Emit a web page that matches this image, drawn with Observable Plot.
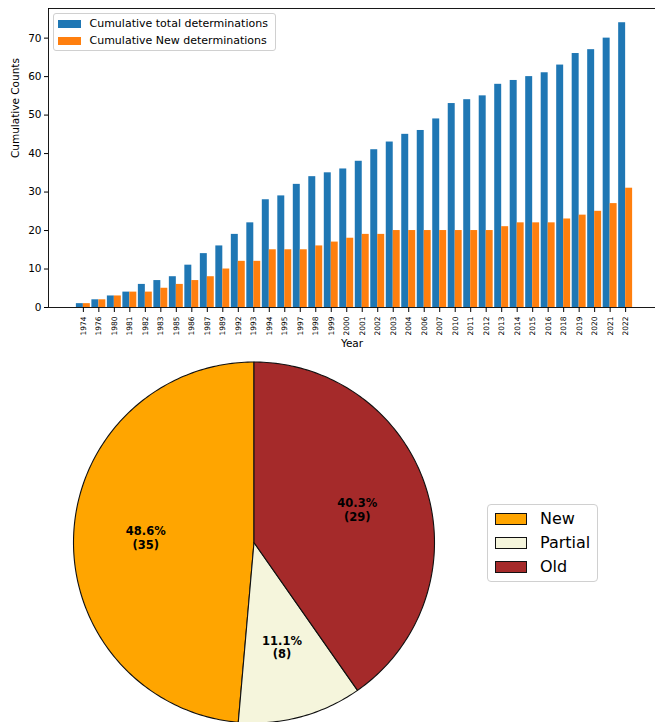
<!DOCTYPE html>
<html><head><meta charset="utf-8">
<script src="https://cdn.jsdelivr.net/npm/d3@7"></script>
<script src="https://cdn.jsdelivr.net/npm/@observablehq/plot@0.6"></script>
<style>
body{margin:0;background:#fff;font-family:"DejaVu Sans",sans-serif}
#wrap{position:relative;width:655px;height:722px;overflow:hidden;background:#fff}
#wrap svg{display:block}
.lg{position:absolute;box-sizing:border-box;border:1px solid #d0d0d0;border-radius:3px;background:rgba(255,255,255,0.85);color:#000;font-family:"DejaVu Sans",sans-serif}
.row{position:absolute;white-space:nowrap}
.patch{position:absolute;box-sizing:border-box}
</style>
</head><body><div id="wrap"></div>
<script>
// ---- data: bar chart ----
const years = [1974,1976,1980,1981,1982,1983,1985,1986,1987,1989,1992,1993,1994,1995,1997,1998,1999,2000,2001,2002,2003,2004,2006,2007,2010,2011,2012,2013,2014,2015,2016,2018,2019,2020,2021,2022];
const totalCounts = [1,2,3,4,6,7,8,11,14,16,19,22,28,29,32,34,35,36,38,41,43,45,46,49,53,54,55,58,59,60,61,63,66,67,70,74];
const newCounts   = [1,2,3,4,4,5,6,7,8,10,12,12,15,15,15,16,17,18,19,19,20,20,20,20,20,20,20,21,22,22,22,23,24,25,27,31];
const yTicks = [0,10,20,30,40,50,60,70];
const seriesNames = ["Cumulative total determinations","Cumulative New determinations"];
const seriesColors = ["#1f77b4","#ff7f0e"];
// ---- data: pie chart ----
const pieLabels = ["New","Partial","Old"];
const pieValues = [35,8,29];
const pieColors = ["#FFA500","#F5F5DC","#A52A2A"];

const wrap = document.getElementById("wrap");
const FONT = "DejaVu Sans";

// ---------- bar chart ----------
const rows = years.map((y, i) => ({i, year: y, total: totalCounts[i], fresh: newCounts[i]}));
const W = 0.45;
const bar = Plot.plot({
  width: 655, height: 350,
  marginLeft: 48, marginRight: 0, marginTop: 8, marginBottom: 43,
  style: {fontFamily: FONT, fontSize: "10px", color: "#000", background: "#fff", overflow: "hidden"},
  x: {domain: [-2.25, 37.25], range: [48, 660]},
  y: {domain: [0, 77.7]},
  marks: [
    Plot.rectY(rows, {x1: d => d.i - W, x2: d => d.i, y1: 0, y2: "total", fill: seriesColors[0]}),
    Plot.rectY(rows, {x1: d => d.i, x2: d => d.i + W, y1: 0, y2: "fresh", fill: seriesColors[1]}),
    Plot.axisX({ticks: rows.map(d => d.i), tickFormat: i => String(years[i]), tickRotate: -90, tickSize: 5, tickPadding: 4, fontSize: 7.5, label: null, stroke: "#000"}),
    Plot.axisY({ticks: yTicks, tickSize: 4, tickPadding: 3, fontSize: 10.5, label: null, stroke: "#000"}),
    Plot.frame({stroke: "#000", strokeWidth: 0.9}),
    Plot.text(["Year"], {text: d => d, frameAnchor: "bottom", dy: 39, fontSize: 10.5, fill: "#000"}),
    Plot.text(["Cumulative Counts"], {text: d => d, frameAnchor: "left", dx: -33, rotate: -90, fontSize: 10.5, fill: "#000"})
  ]
});
wrap.appendChild(bar);

// ---------- pie chart ----------
const R = 180.5, CX = 253.5, CY = 192, PW = 655, PH = 372;
const sum = d3.sum(pieValues);
const slices = [];
const labelPts = [];
let a = 90; // start at top, counter-clockwise
pieValues.forEach((v, k) => {
  const span = v / sum * 360;
  const a0 = a, a1 = a + span;
  const n = Math.max(2, Math.ceil(span));
  slices.push({k, x: 0, y: 0, label: pieLabels[k], color: pieColors[k]});
  for (let j = 0; j <= n; j++) {
    const t = (a0 + (a1 - a0) * j / n) * Math.PI / 180;
    slices.push({k, x: Math.cos(t), y: Math.sin(t), label: pieLabels[k], color: pieColors[k]});
  }
  slices.push({k, x: 0, y: 0, label: pieLabels[k], color: pieColors[k]});
  const m = (a0 + span / 2) * Math.PI / 180;
  labelPts.push({x: 0.6 * Math.cos(m), y: 0.6 * Math.sin(m), text: `${(v / sum * 100).toFixed(1)}%\n(${v})`});
  a = a1;
});
const pie = Plot.plot({
  width: PW, height: PH,
  margin: 0,
  style: {fontFamily: FONT, background: "#fff", overflow: "hidden"},
  x: {domain: [-CX / R, (PW - CX) / R], axis: null},
  y: {domain: [-(PH - CY) / R, CY / R], axis: null},
  color: {type: "identity"},
  marks: [
    Plot.line(slices, {x: "x", y: "y", z: "label", fill: "color", stroke: "#111", strokeWidth: 1.1, curve: "linear"}),
    Plot.text(labelPts, {x: "x", y: "y", text: "text", fontSize: 11.5, fontWeight: "bold", fill: "#000", lineAnchor: "middle", lineHeight: 1.2})
  ]
});
wrap.appendChild(pie);

// ---------- legends ----------
function legend(box, items, o) {
  const d = document.createElement("div");
  d.className = "lg";
  Object.assign(d.style, {left: box[0] + "px", top: box[1] + "px", width: box[2] + "px", height: box[3] + "px", fontSize: o.fs + "px", borderRadius: o.br + "px"});
  items.forEach((it, k) => {
    const p = document.createElement("div");
    p.className = "patch";
    Object.assign(p.style, {left: o.px + "px", top: (o.y0 + k * o.dy - o.ph / 2) + "px", width: o.pw + "px", height: o.ph + "px", background: it.color, border: o.border});
    d.appendChild(p);
    const t = document.createElement("div");
    t.className = "row";
    t.textContent = it.label;
    Object.assign(t.style, {left: o.tx + "px", top: (o.y0 + k * o.dy - o.fs * 0.62) + "px", lineHeight: "1.2"});
    d.appendChild(t);
  });
  wrap.appendChild(d);
}
legend([53, 13, 223, 38], seriesNames.map((s, k) => ({label: s, color: seriesColors[k]})),
  {fs: 11, br: 3, px: 3.5, pw: 23, ph: 8, y0: 9.5, dy: 17, tx: 35.5, border: "none"});
legend([487, 504, 111, 78], pieLabels.map((s, k) => ({label: s, color: pieColors[k]})),
  {fs: 16, br: 4, px: 6.5, pw: 32, ph: 12, y0: 14, dy: 23.8, tx: 52, border: "1px solid #111"});
</script>
</body></html>
